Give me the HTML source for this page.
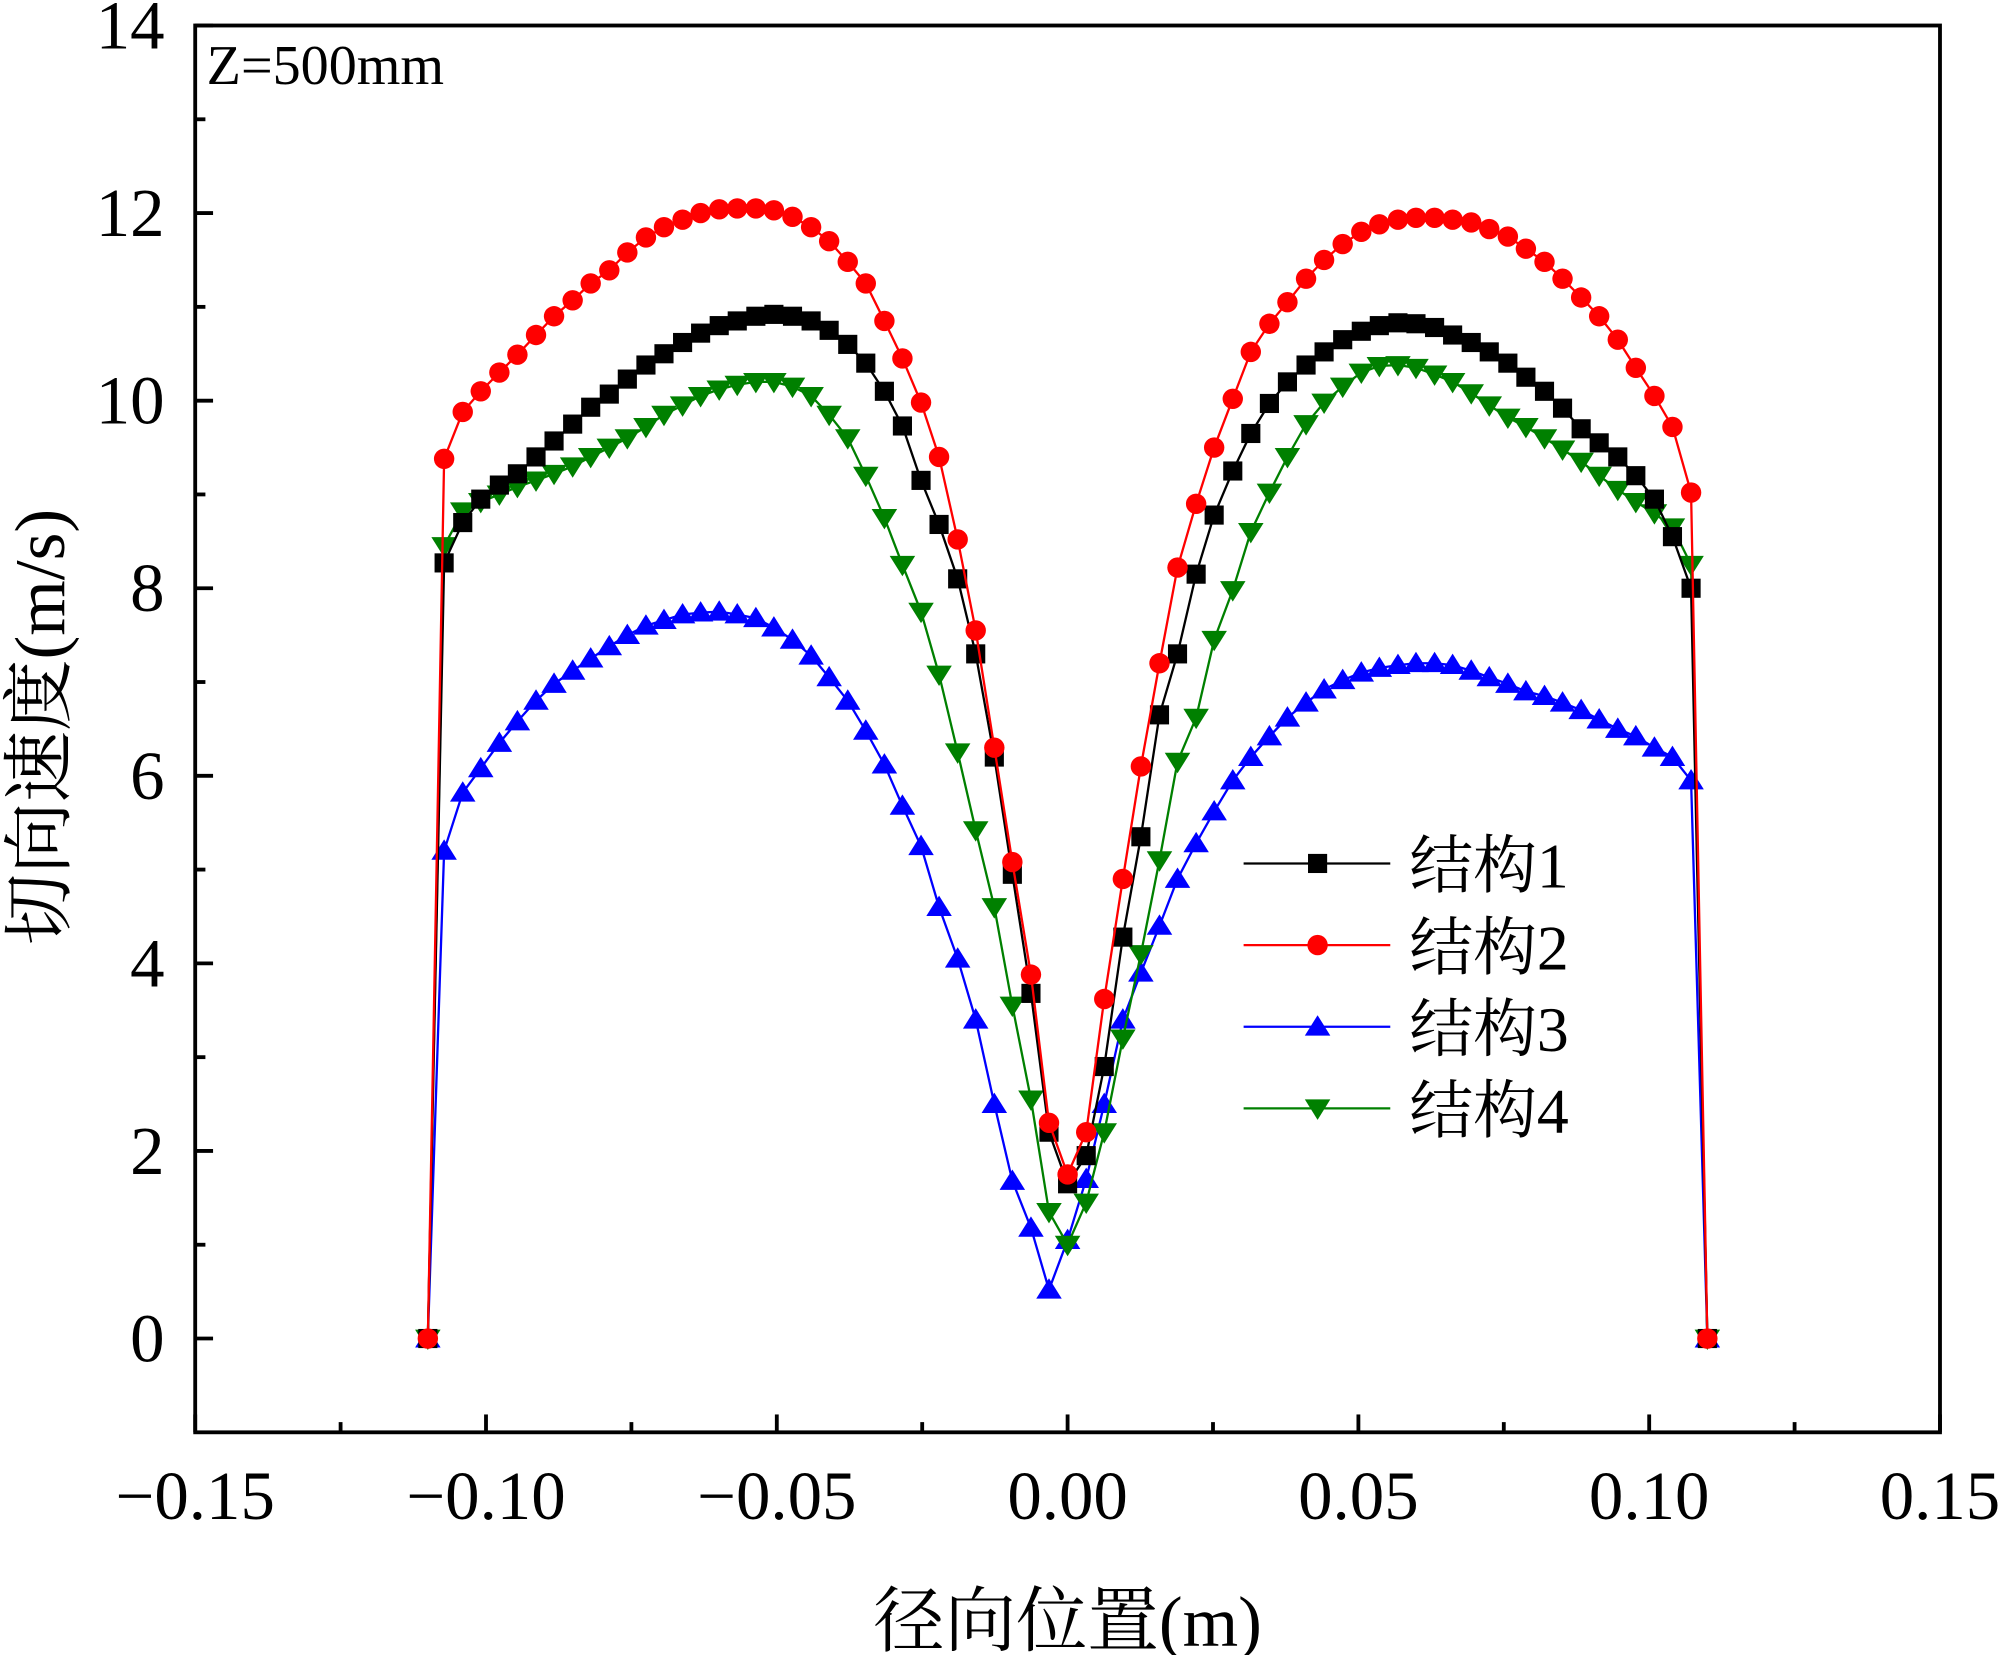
<!DOCTYPE html>
<html><head><meta charset="utf-8"><style>
html,body{margin:0;padding:0;background:#fff;}
svg{display:block;}
text{font-family:"Liberation Serif","Noto Serif CJK SC","Noto Sans CJK SC",serif;fill:#000;}
</style></head>
<body>
<svg id="chart" width="2000" height="1655" viewBox="0 0 1568 1297.6" xmlns="http://www.w3.org/2000/svg">
<g id="grid-layer"></g>
<g id="series-layer"></g>
<rect x="153" y="20" width="1368" height="1103" fill="none" stroke="#000" stroke-width="3"/>
<text x="162" y="66" font-size="44">Z=500mm</text>
<text x="837" y="1290" font-size="56" text-anchor="middle">径向位置(m)</text>
<text transform="translate(50,570) rotate(-90)" font-size="56" text-anchor="middle">切向速度(m/s)</text>
<g id="legend-layer"></g>
</svg>
<script>
const xVals=[-0.11,-0.1072,-0.1040,-0.1009,-0.0977,-0.0946,-0.0914,-0.0883,-0.0851,-0.0820,-0.0788,-0.0757,-0.0725,-0.0694,-0.0662,-0.0631,-0.0599,-0.0568,-0.0536,-0.0505,-0.0473,-0.0441,-0.0410,-0.0378,-0.0347,-0.0315,-0.0284,-0.0252,-0.0221,-0.0189,-0.0158,-0.0126,-0.0095,-0.0063,-0.0032,0,
0.0032,0.0063,0.0095,0.0126,0.0158,0.0189,0.0221,0.0252,0.0284,0.0315,0.0347,0.0378,0.0410,0.0441,0.0473,0.0505,0.0536,0.0568,0.0599,0.0631,0.0662,0.0694,0.0725,0.0757,0.0788,0.0820,0.0851,0.0883,0.0914,0.0946,0.0977,0.1009,0.1040,0.1072,0.11];
const s1=[0,8.27,8.7,8.95,9.1,9.22,9.4,9.57,9.75,9.93,10.07,10.23,10.38,10.5,10.62,10.72,10.8,10.85,10.9,10.92,10.9,10.85,10.75,10.6,10.4,10.1,9.73,9.15,8.68,8.1,7.3,6.2,4.95,3.68,2.2,1.65,
1.95,2.9,4.28,5.35,6.65,7.3,8.15,8.78,9.25,9.65,9.97,10.2,10.38,10.52,10.65,10.74,10.8,10.83,10.82,10.78,10.7,10.62,10.52,10.4,10.25,10.1,9.92,9.7,9.55,9.4,9.2,8.95,8.55,8.0,0];
const s2=[0,9.38,9.88,10.1,10.3,10.49,10.7,10.9,11.07,11.25,11.39,11.58,11.74,11.85,11.93,12.0,12.04,12.05,12.05,12.03,11.96,11.85,11.7,11.48,11.25,10.85,10.45,9.98,9.4,8.52,7.55,6.3,5.08,3.88,2.3,1.75,
2.2,3.62,4.9,6.1,7.2,8.22,8.9,9.5,10.02,10.52,10.82,11.05,11.3,11.5,11.67,11.8,11.88,11.93,11.95,11.95,11.93,11.9,11.83,11.75,11.62,11.48,11.3,11.1,10.9,10.65,10.35,10.05,9.72,9.02,0];
const s3=[0,5.2,5.82,6.08,6.35,6.58,6.8,6.98,7.12,7.25,7.38,7.5,7.6,7.66,7.72,7.74,7.75,7.72,7.68,7.58,7.45,7.28,7.05,6.8,6.48,6.12,5.68,5.25,4.6,4.05,3.4,2.5,1.68,1.18,0.52,1.05,
1.7,2.5,3.4,3.9,4.4,4.9,5.28,5.62,5.95,6.2,6.42,6.62,6.78,6.92,7.02,7.1,7.15,7.18,7.2,7.2,7.18,7.12,7.05,6.98,6.9,6.85,6.78,6.7,6.6,6.5,6.42,6.3,6.2,5.95,0];
const s4=[0,8.45,8.82,8.92,9.0,9.08,9.15,9.22,9.3,9.4,9.5,9.6,9.72,9.85,9.95,10.05,10.12,10.17,10.2,10.2,10.15,10.05,9.85,9.6,9.2,8.75,8.25,7.75,7.08,6.25,5.42,4.6,3.55,2.55,1.35,1.0,
1.45,2.2,3.2,4.1,5.1,6.15,6.62,7.45,7.98,8.6,9.02,9.4,9.75,9.98,10.15,10.3,10.37,10.38,10.35,10.28,10.2,10.08,9.95,9.82,9.72,9.6,9.48,9.35,9.2,9.05,8.92,8.8,8.65,8.25,0];
const xTicks=[-0.15,-0.10,-0.05,0.00,0.05,0.10,0.15];
const xTickLabels=["\u22120.15","\u22120.10","\u22120.05","0.00","0.05","0.10","0.15"];
const yTicks=[0,2,4,6,8,10,12,14];
const seriesNames=["结构1","结构2","结构3","结构4"];

const NS="http://www.w3.org/2000/svg";
const L=153,R=1521,T=20,B=1123;
function xs(v){return L+(v+0.15)/0.30*(R-L);}
function ys(v){return B-(v+1)/15*(B-T);}
function mk(tag,attrs,parent){const e=document.createElementNS(NS,tag);for(const k in attrs)e.setAttribute(k,attrs[k]);parent.appendChild(e);return e;}
const grid=document.getElementById('grid-layer');
xTicks.forEach((t,i)=>{
  const x=xs(t);
  const tk=mk('line',{x1:x,x2:x,y1:B,y2:B-14,stroke:'#000','stroke-width':3},grid);
  
  
  const lb=mk('text',{x:x,y:B+68,'font-size':54,'text-anchor':'middle'},grid);
  lb.textContent=xTickLabels[i];
  
  
  if(i<xTicks.length-1){
    const m=xs(t+0.025);
    const mt=mk('line',{x1:m,x2:m,y1:B,y2:B-8,stroke:'#000','stroke-width':3},grid);
    
    
  }
});
yTicks.forEach((t,i)=>{
  const y=ys(t);
  const tk=mk('line',{x1:L,x2:L+14,y1:y,y2:y,stroke:'#000','stroke-width':3},grid);
  
  
  const lb=mk('text',{x:L-24,y:y+18,'font-size':54,'text-anchor':'end'},grid);
  lb.textContent=String(t);
  
  
  const m=ys(t+1);
  const mt=mk('line',{x1:L,x2:L+8,y1:m,y2:m,stroke:'#000','stroke-width':3},grid);
  
  
});

function marker(kind,cx,cy,color,parent){
  let e;
  if(kind==='sq') e=mk('rect',{x:cx-7.5,y:cy-7.5,width:15,height:15,fill:color},parent);
  else if(kind==='ci') e=mk('circle',{cx:cx,cy:cy,r:8,fill:color},parent);
  else if(kind==='up') e=mk('polygon',{points:`${cx},${cy-9} ${cx-10},${cy+7} ${cx+10},${cy+7}`,fill:color},parent);
  else e=mk('polygon',{points:`${cx},${cy+9} ${cx-10},${cy-7} ${cx+10},${cy-7}`,fill:color},parent);
  return e;
}
const sl=document.getElementById('series-layer');
const allSeries=[[s3,'#0000ff','up'],[s4,'#008000','dn'],[s1,'#000000','sq'],[s2,'#ff0000','ci']];
const seriesLabel={'up':'series-3','dn':'series-4','sq':'series-1','ci':'series-2'};
allSeries.forEach(([data,color,kind])=>{
  const g=mk('g',{},sl);
  
  
  const pts=data.map((v,i)=>xs(xVals[i])+','+ys(v)).join(' ');
  const pl=mk('polyline',{points:pts,fill:'none',stroke:color,'stroke-width':1.8},g);
  
  
  data.forEach((v,i)=>{
    const m=marker(kind,xs(xVals[i]),ys(v),color,g);
    
    
  });
});
const lg=document.getElementById('legend-layer');
const legSpec=[['#000000','sq'],['#ff0000','ci'],['#0000ff','up'],['#008000','dn']];
legSpec.forEach(([color,kind],i)=>{
  const y=677+i*64;
  const g=mk('g',{},lg);
  
  
  mk('line',{x1:975,x2:1090,y1:y,y2:y,stroke:color,'stroke-width':1.8},g);
  marker(kind,1033,y,color,g);
  const t=mk('text',{x:1105,y:y+19,'font-size':50},g);
  t.textContent=seriesNames[i];
});
</script>
</body></html>
